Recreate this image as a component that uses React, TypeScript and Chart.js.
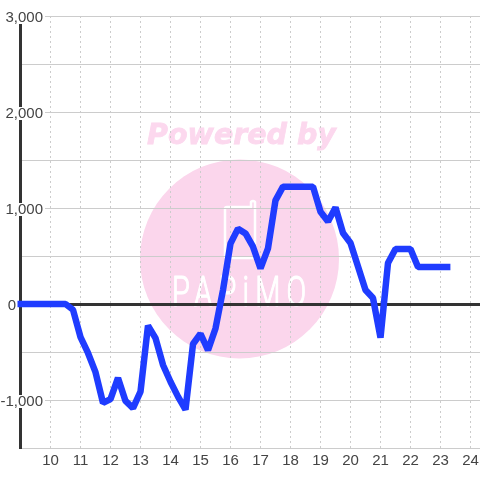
import React, { useEffect, useRef } from "react";
import { Chart, registerables } from "chart.js";

Chart.register(...registerables);

const hours = [
  8.75, 9, 10.5, 10.75, 11, 11.25, 11.5, 11.75, 12, 12.25, 12.5, 12.75, 13, 13.25, 13.5, 13.75, 14, 14.25, 14.5, 14.75,
  15, 15.25, 15.5, 15.75, 16, 16.25, 16.5, 16.75, 17, 17.25, 17.5, 17.75, 18, 18.25, 18.5, 18.75, 19, 19.25, 19.5,
  19.75, 20, 20.25, 20.5, 20.75, 21, 21.25, 21.5, 21.75, 22, 22.25, 22.5, 22.75, 23, 23.33,
];
const balance = [
  0, 0, 0, -60, -344, -510, -710, -1030, -990, -770, -1010, -1085, -913, -225, -355, -635, -810, -965, -1100, -417,
  -310, -480, -255, 145, 630, 785, 735, 597, 370, 580, 1080, 1222, 1222, 1222, 1222, 1222, 961, 860, 1005,
  740, 635, 390, 146, 62, -350, 427, 573, 573, 573, 385, 385, 385, 385, 385,
];
const yLabelValues = [3000, 2000, 1000, 0, -1000];

const FONT = "15px 'Liberation Sans'";
const TEXT = "#444444";
const GRID = "#cccccc";
const AXIS = "#333333";

const watermark = {
  id: "watermark",
  beforeDraw(chart: any) {
    const c = chart.ctx;
    c.save();
    c.fillStyle = "#fbd6ec";
    c.beginPath();
    c.arc(239.5, 259, 99.5, 0, Math.PI * 2);
    c.fill();
    c.font = "italic bold 28.5px 'DejaVu Sans'";
    c.textAlign = "center";
    c.textBaseline = "alphabetic";
    c.fillStyle = "#fcd8ee";
    c.strokeStyle = "#fcd8ee";
    c.lineWidth = 0.8;
    c.fillText("Powered by", 241.5, 144);
    c.strokeText("Powered by", 241.5, 144);
    c.strokeStyle = "#ffffff";
    c.lineWidth = 2.5;
    c.lineJoin = "round";
    c.beginPath();
    c.moveTo(251, 207);
    c.lineTo(227, 207);
    c.quadraticCurveTo(225, 207, 225, 209);
    c.lineTo(225, 256);
    c.quadraticCurveTo(225, 258, 227, 258);
    c.lineTo(255, 258);
    c.lineTo(255, 202);
    c.quadraticCurveTo(253, 200, 251, 202);
    c.closePath();
    c.stroke();
    c.font = "300 42px Roboto";
    c.fillStyle = "#ffffff";
    c.strokeStyle = "#ffffff";
    c.lineWidth = 1.2;
    c.textAlign = "left";
    c.translate(172, 306);
    c.scale(0.69, 1);
    (c as any).letterSpacing = "9px";
    c.fillText("PAPiMO", 0, 0);
    c.strokeText("PAPiMO", 0, 0);
    c.restore();
  },
};

const yLabels = {
  id: "yLabels",
  beforeDatasetsDraw(chart: any) {
    const c = chart.ctx;
    const y = chart.scales.y;
    c.save();
    c.font = FONT;
    c.textBaseline = "middle";
    yLabelValues.forEach((v) => {
      const py = y.getPixelForValue(v);
      const text = v.toLocaleString("en-US");
      const w = c.measureText(text).width;
      const right = v === 0 ? 12 + w / 2 : 43;
      c.fillStyle = "#ffffff";
      c.fillRect(right - w - 1, py - 5, w + 3, 13);
      c.fillStyle = TEXT;
      c.textAlign = "right";
      c.fillText(text, right, py + 2);
    });
    c.restore();
  },
};

export default function App() {
  const ref = useRef<HTMLCanvasElement | null>(null);
  useEffect(() => {
    document.body.style.margin = "0";
    const chart = new Chart(ref.current as HTMLCanvasElement, {
      type: "line",
      data: {
        datasets: [
          {
            data: hours.map((h, i) => ({ x: h, y: balance[i] })),
            borderColor: "#1f3cff",
            borderWidth: 6.5,
            borderJoinStyle: "bevel",
            pointRadius: 0,
            tension: 0,
            fill: false,
            clip: 3,
          },
        ],
      },
      options: {
        animation: false,
        responsive: false,
        layout: { autoPadding: false, padding: { top: 16, right: 0, left: 0, bottom: 0 } },
        plugins: { legend: { display: false }, tooltip: { enabled: false } },
        scales: {
          x: {
            type: "linear",
            min: 9,
            max: 24.3167,
            afterFit: (s: any) => {
              s.height = 32;
              s.paddingLeft = 0;
              s.paddingRight = 0;
            },
            border: { display: false, dash: [2, 3] },
            grid: {
              drawTicks: false,
              color: (ctx: any) => (ctx.tick && ctx.tick.value === 9 ? "rgba(0,0,0,0)" : GRID),
              lineWidth: 1,
            },
            ticks: {
              stepSize: 1,
              includeBounds: false,
              autoSkip: false,
              maxRotation: 0,
              padding: 4,
              color: TEXT,
              font: { family: "'Liberation Sans'", size: 15 },
              callback: (v: any) => (v === 9 ? "" : String(v)),
            },
          },
          y: {
            type: "linear",
            min: -1500,
            max: 3000,
            afterFit: (s: any) => {
              s.width = 20.5;
            },
            border: { display: true, color: AXIS, width: 3 },
            grid: {
              drawTicks: false,
              color: (ctx: any) => (ctx.tick && ctx.tick.value === 0 ? AXIS : GRID),
              lineWidth: (ctx: any) => (ctx.tick && ctx.tick.value === 0 ? 3 : 1),
            },
            ticks: { stepSize: 500, display: false },
          },
        },
      } as any,
      plugins: [watermark, yLabels],
    });
    return () => chart.destroy();
  }, []);
  return <canvas ref={ref} width={480} height={480} style={{ display: "block", width: 480, height: 480 }} />;
}
